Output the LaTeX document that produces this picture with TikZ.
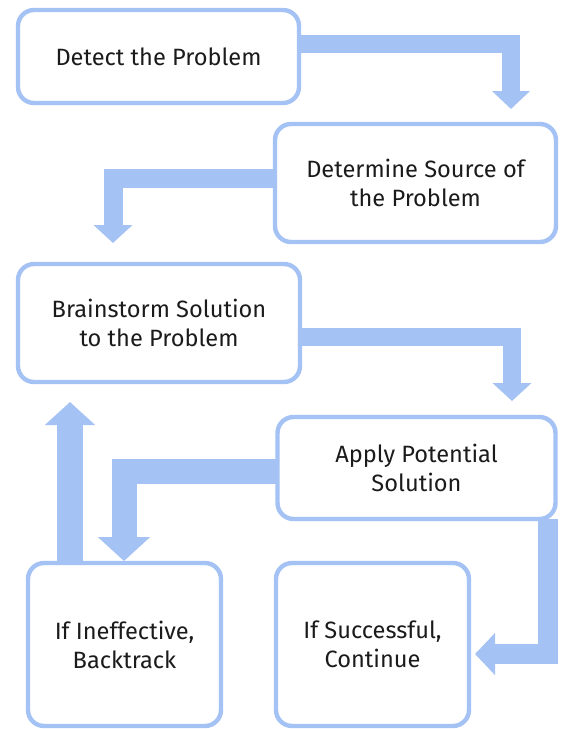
\documentclass[tikz,border=0pt]{standalone}
\usepackage{fontspec}
\setmainfont{Fira Sans}
\usepackage{tikz}
\usetikzlibrary{arrows.meta}
\definecolor{skyx}{HTML}{A4C2F4}
\definecolor{inkx}{HTML}{1B1B1B}
\tikzset{
  box/.style={draw=skyx,line width=2.2pt,rounded corners=8pt,fill=white,align=center,outer sep=0pt,inner sep=0pt,text=inkx,font=\fontsize{11.8}{14.5}\selectfont},
  ar/.style n args={3}{draw=skyx,line width=#1,-{Triangle[width=#2,length=#3]}}
}
\begin{document}
\begin{tikzpicture}[x=0.5pt,y=-0.5pt]
\useasboundingbox (0,0) rectangle (567,729);
% steps
\node[box,minimum width=140.5pt,minimum height=46.5pt] (b1) at (158.5,56.5) {Detect the Problem};
\node[box,minimum width=140.5pt,minimum height=59pt] (b2) at (415.5,183) {Determine Source of\\the Problem};
\node[box,minimum width=141pt,minimum height=59pt] (b3) at (159,323) {Brainstorm Solution\\to the Problem};
\node[box,minimum width=139pt,minimum height=51pt] (b4) at (416.5,468) {Apply Potential\\Solution};
\node[box,minimum width=96.5pt,minimum height=81.5pt] (b5) at (124.5,644.5) {If Ineffective,\\Backtrack};
\node[box,minimum width=96.5pt,minimum height=81.5pt] (b6) at (372.5,644.5) {If Successful,\\Continue};
% arrow tips
\coordinate (t1) at (511,109);
\coordinate (t2) at (113,243);
\coordinate (t3) at (512,401);
\coordinate (t4) at (124,561);
\coordinate (t5) at (475,654);
\coordinate (t6) at (70,402);
% flow
\draw[ar={9pt}{18.5pt}{9pt}] ([yshift=6.25pt]b1.east) -| (t1);
\draw[ar={9.5pt}{19pt}{9pt}] ([yshift=2.5pt]b2.west) -| (t2);
\draw[ar={9pt}{19pt}{9pt}] ([yshift=-7pt]b3.east) -| (t3);
\draw[ar={12.5pt}{25.5pt}{12pt}] ([yshift=-1.75pt]b4.west) -| (t4);
\draw[ar={10pt}{20.5pt}{10pt}] ([xshift=65.75pt]b4.south) |- (t5);
\draw[ar={13pt}{24.5pt}{11.5pt}] ([xshift=-27.25pt]b5.north) -- (t6);
\end{tikzpicture}
\end{document}
